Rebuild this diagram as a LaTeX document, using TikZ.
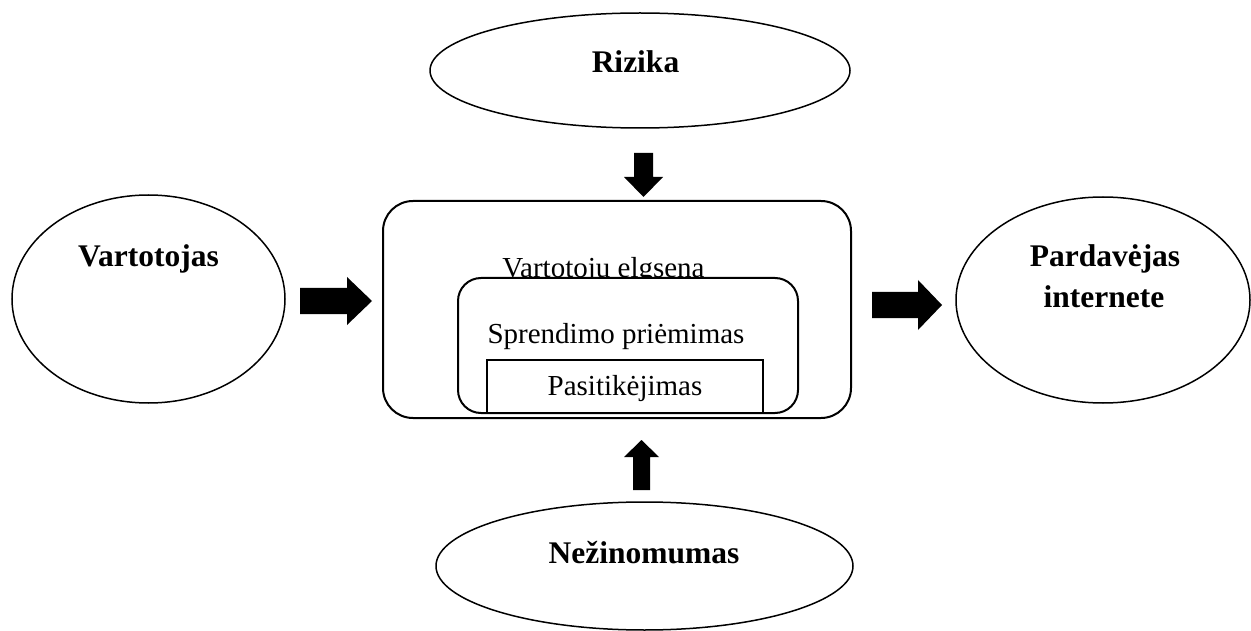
\documentclass[tikz,border=0pt]{standalone}
\usepackage{fontspec}
\setmainfont{Liberation Serif}
\usetikzlibrary{shapes.geometric}
\begin{document}
\begin{tikzpicture}[x=1pt,y=-1pt,
  oval/.style={draw, ellipse, line width=1.5pt, inner sep=0pt},
  bigbox/.style={draw, line width=2pt, fill=white, inner sep=0pt},
  boldlbl/.style={font=\fontsize{31.5}{40}\selectfont\bfseries, inner sep=0pt, anchor=base, align=center},
  reglbl/.style={font=\fontsize{29}{35}\selectfont, inner sep=0pt, anchor=base},
  blockarrow/.style={fill=black, draw=none}]
\useasboundingbox (0,0) rectangle (1251,631);
% ellipses
\node[oval, minimum width=420pt, minimum height=115pt] (riz) at (640,70.5) {};
\node[oval, minimum width=273pt, minimum height=208pt] (vart) at (148.5,299) {};
\node[oval, minimum width=294pt, minimum height=206pt] (pard) at (1103,300) {};
\node[oval, minimum width=417pt, minimum height=128pt] (nez) at (644.5,566) {};
% labels in ellipses
\node[boldlbl] (rizT) at (635.5,73) {Rizika};
\node[boldlbl] (vartT) at (148.5,267) {Vartotojas};
\node[boldlbl] (pardT1) at (1105,267) {Pardavėjas};
\node[boldlbl] (pardT2) at (1104,307) {internete};
\node[boldlbl] (nezT) at (644,563) {Nežinomumas};
% boxes
\node[bigbox, rounded corners=30pt, minimum width=468pt, minimum height=217pt] (outer) at (617,309.5) {};
\node[reglbl] (outerT) at (603.5,277) {Vartotoju elgsena};
\node[bigbox, rounded corners=23pt, minimum width=340pt, minimum height=135pt] (inner) at (628,345.5) {};
\node[reglbl] (innerT) at (616,343) {Sprendimo priėmimas};
\node[bigbox, minimum width=276pt, minimum height=53pt] (trust) at (625,386.5) {};
\node[reglbl] (trustT) at (625,395) {Pasitikėjimas};
% block arrows
\fill[blockarrow] (300,288) -- (347,288) -- (347,277) -- (372,301) -- (347,325) -- (347,314) -- (300,314) -- cycle;
\fill[blockarrow] (872,292) -- (918,292) -- (918,280) -- (942,305) -- (918,330) -- (918,318) -- (872,318) -- cycle;
\fill[blockarrow] (634,153) -- (653,153) -- (653,177) -- (663,177) -- (643.5,197) -- (624,177) -- (634,177) -- cycle;
\fill[blockarrow] (633,490) -- (650,490) -- (650,457) -- (659,457) -- (641.5,440) -- (624,457) -- (633,457) -- cycle;
\end{tikzpicture}
\end{document}
